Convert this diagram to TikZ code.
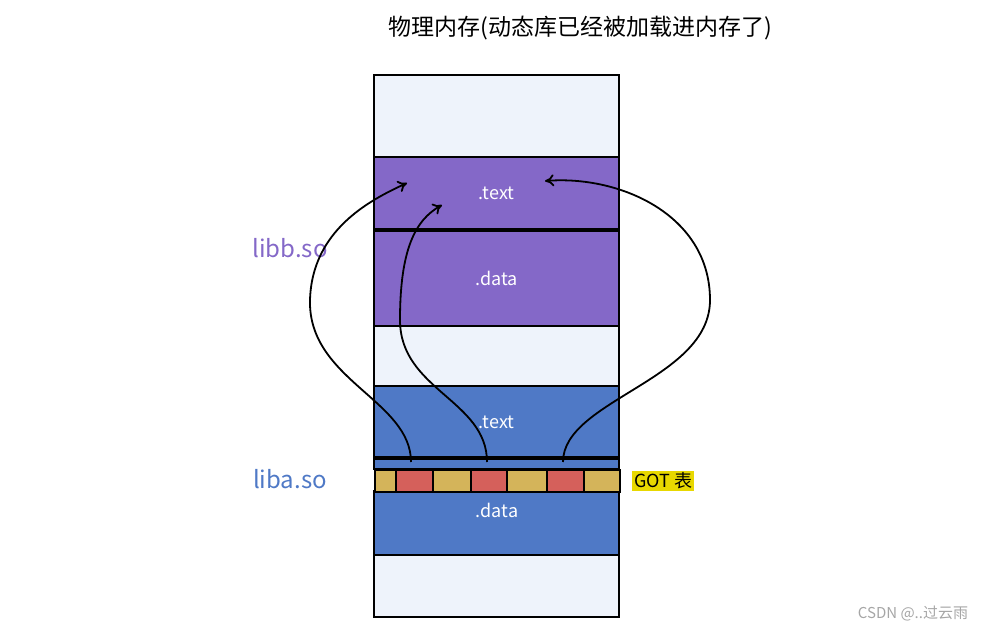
\documentclass[tikz,border=0pt]{standalone}
\usepackage{fontspec}
\setmainfont{Noto Sans CJK SC}
\usetikzlibrary{arrows.meta}
\definecolor{pale}{HTML}{EEF3FB}
\definecolor{purp}{HTML}{8468C8}
\definecolor{blu}{HTML}{4F79C6}
\definecolor{gyel}{HTML}{D4B45A}
\definecolor{gred}{HTML}{D5605B}
\definecolor{gotbg}{HTML}{E8D800}
\tikzset{
 sec/.style={draw=black,line width=2pt,minimum width=245pt,inner sep=0pt,outer sep=0pt,anchor=north west,text=white,font=\fontsize{18}{18}\selectfont},
 cell/.style={draw=black,line width=2pt,minimum height=22pt,inner sep=0pt,anchor=north west},
 lnk/.style={line width=1.8pt,-{To[length=9pt,width=12pt]}},
}
\begin{document}
\begin{tikzpicture}[x=1pt,y=-1pt]
\useasboundingbox (0,0) rectangle (1002,635);
\node[font=\fontsize{23}{23}\selectfont] (title) at (580,28) {物理内存(动态库已经被加载进内存了)};
\node[sec,fill=pale,minimum height=82pt] (top) at (374,75) {};
\node[sec,fill=purp,minimum height=72pt] (btext) at (374,157) {.text};
\node[sec,fill=purp,minimum height=96pt] (bdata) at (374,230) {.data};
\draw[line width=3.5pt] (374,230) -- (619,230);
\node[sec,fill=pale,minimum height=60pt] (gap) at (374,326) {};
\node[sec,fill=blu,minimum height=72pt] (atext) at (374,386) {.text};
\node[sec,fill=blu,minimum height=11pt] (strip) at (374,458) {};
\draw[line width=3.5pt] (374,458) -- (619,458);
\node[sec,fill=blu,minimum height=64pt] (adata) at (374,491) {};
\node[text=white,font=\fontsize{18}{18}\selectfont] (adatal) at (497,510) {.data};
\node[sec,fill=pale,minimum height=62pt] (bot) at (374,555) {};
\node[cell,fill=gyel,minimum width=21pt] (g1) at (374,469) {};
\node[cell,fill=gred,minimum width=37pt] (g2) at (395,469) {};
\node[cell,fill=gyel,minimum width=38pt] (g3) at (432,469) {};
\node[cell,fill=gred,minimum width=36pt] (g4) at (470,469) {};
\node[cell,fill=gyel,minimum width=40pt] (g5) at (506,469) {};
\node[cell,fill=gred,minimum width=37pt] (g6) at (546,469) {};
\node[cell,fill=gyel,minimum width=36pt] (g7) at (583,469) {};
\node[fill=gotbg,inner sep=2pt,font=\fontsize{18}{18}\selectfont,anchor=west] (got) at (632,481) {GOT 表};
\node[text=purp,font=\fontsize{24}{24}\selectfont] (libb) at (290,248) {libb.so};
\node[text=blu,font=\fontsize{24}{24}\selectfont] (liba) at (290,479) {liba.so};
\node[text=gray!70,font=\fontsize{15}{15}\selectfont] (wm) at (913,614) {CSDN @..过云雨};
\coordinate (s1) at (411,462); \coordinate (e1) at (407,183);
\coordinate (s2) at (487,462); \coordinate (e2) at (442,205);
\coordinate (s3) at (563,462); \coordinate (e3) at (545,181);
\draw[lnk] (s1) .. controls (411,400) and (308,380) .. (310,300) .. controls (312,230) and (370,200) .. (e1);
\draw[lnk] (s2) .. controls (487,400) and (400,390) .. (400,320) .. controls (400,250) and (415,220) .. (e2);
\draw[lnk] (s3) .. controls (563,400) and (710,380) .. (710,300) .. controls (710,215) and (620,175) .. (e3);
\end{tikzpicture}
\end{document}
